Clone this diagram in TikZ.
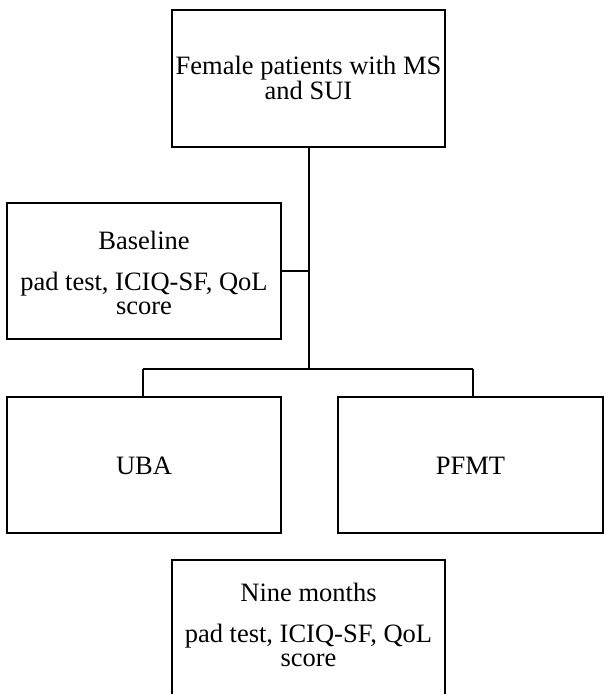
\documentclass[tikz,border=0pt]{standalone}
\usepackage{fontspec}
\setmainfont{Liberation Serif}
\begin{document}
\begin{tikzpicture}[x=1pt,y=-1pt,
  box/.style={draw=black, line width=2pt, inner sep=0pt, fill=none},
  txt/.style={anchor=base, inner sep=0pt, font=\fontsize{26.5}{26}\selectfont},
  conn/.style={draw=black, line width=2pt}]
\useasboundingbox (0,0) rectangle (604,694);
\clip (0,0) rectangle (604,694);
% boxes
\node[box, minimum width=273pt, minimum height=137pt] (top) at (308.5,78.5) {};
\node[box, minimum width=274pt, minimum height=136pt] (base) at (144,271) {};
\node[box, minimum width=274pt, minimum height=136pt] (uba) at (144,465) {};
\node[box, minimum width=265pt, minimum height=136pt] (pfmt) at (470.5,465) {};
\node[box, minimum width=273pt, minimum height=137pt] (nine) at (308.5,628.5) {};
% texts
\node[txt] (t1) at (308.5,74) {Female patients with MS};
\node[txt] (t2) at (308.5,99) {and SUI};
\node[txt] (b1) at (144,249) {Baseline};
\node[txt] (b2) at (144,290) {pad test, ICIQ-SF, QoL};
\node[txt] (b3) at (144,314) {score};
\node[txt] (u1) at (144,474) {UBA};
\node[txt] (p1) at (470.5,474) {PFMT};
\node[txt] (n1) at (308.5,601) {Nine months};
\node[txt] (n2) at (308.5,642) {pad test, ICIQ-SF, QoL};
\node[txt] (n3) at (308.5,666) {score};
% connectors
\coordinate (dl) at (143,369);
\coordinate (dr) at (473,369);
\coordinate (jc) at (top.south |- dl);
\draw[conn] (top.south) -- (jc);
\draw[conn] (base.east) -- (base.east -| jc);
\draw[conn] (dl) -- (dr);
\draw[conn] (dl) -- (dl |- uba.north);
\draw[conn] (dr) -- (dr |- pfmt.north);
\end{tikzpicture}
\end{document}
